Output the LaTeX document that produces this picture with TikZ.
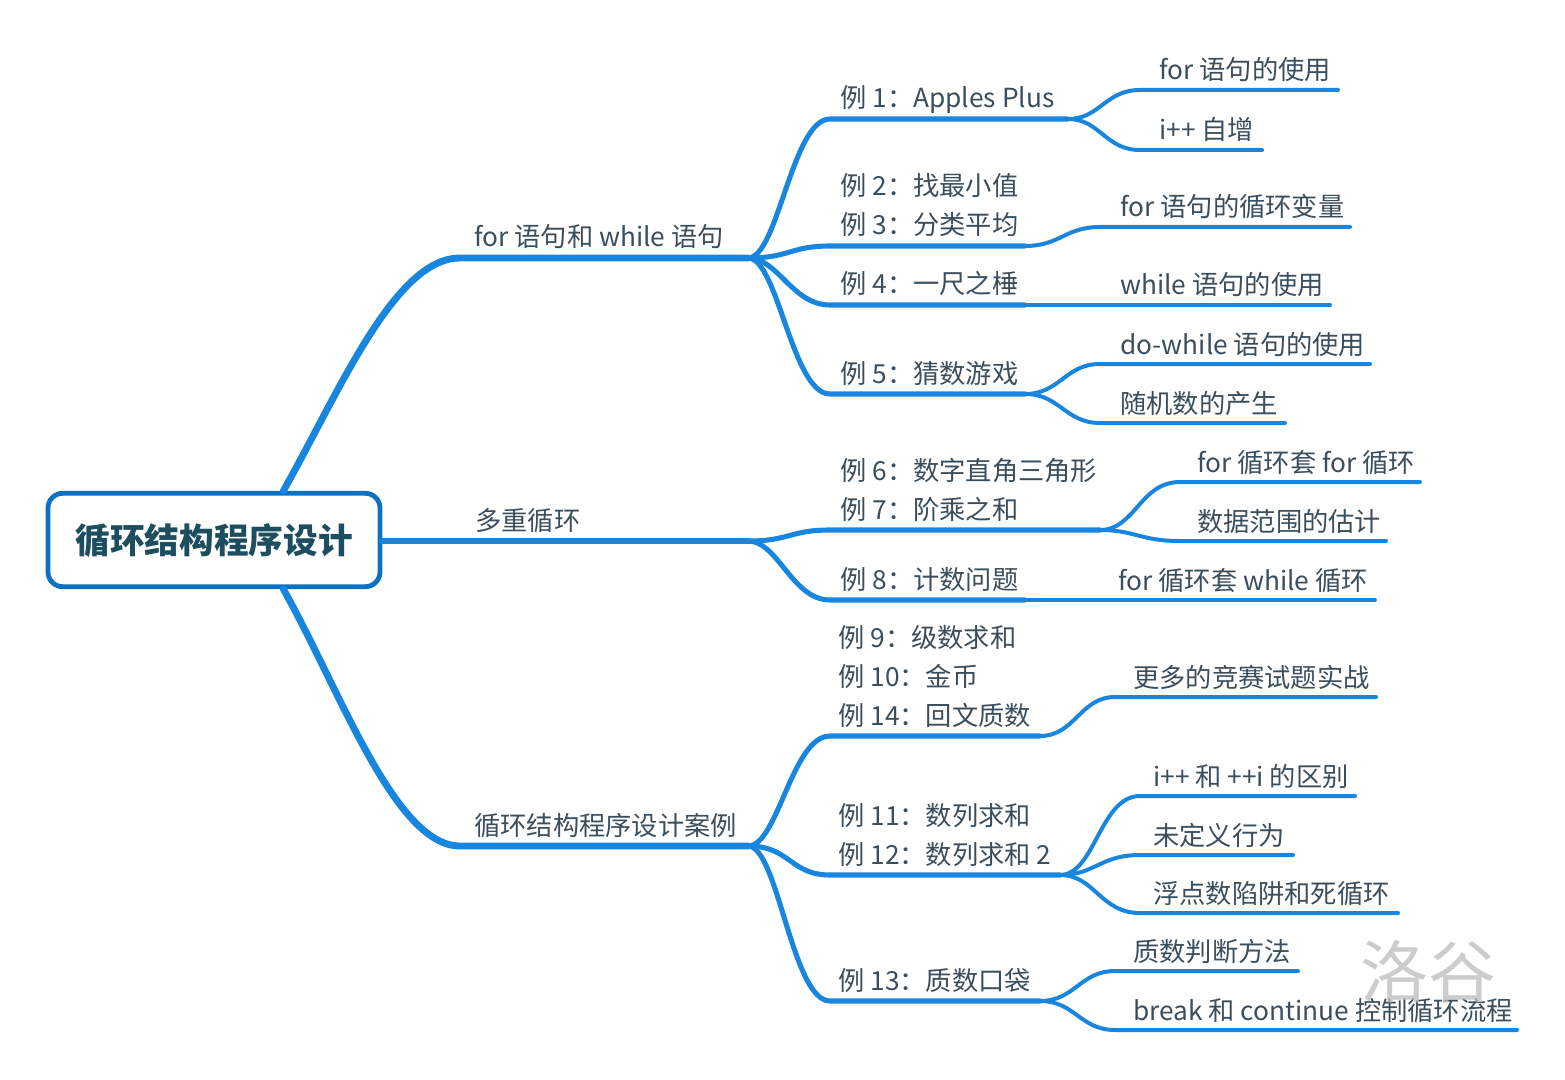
\documentclass[tikz,border=0pt]{standalone}
\usepackage{fontspec}
\setmainfont{Noto Sans CJK SC}
\usetikzlibrary{positioning}
\definecolor{branch}{RGB}{24,134,222}
\definecolor{rootline}{RGB}{12,112,196}
\definecolor{textgray}{RGB}{58,78,94}
\definecolor{roottext}{RGB}{28,78,96}
\tikzset{%
  % Specifications for style of nodes:
  rootbox/.style = {rectangle, rounded corners=11pt, draw=rootline,
    line width=3.6pt, fill=white,
    minimum width=249pt, minimum height=70pt,
    text=roottext, font=\fontsize{26}{30}\selectfont\bfseries},
  topic/.style = {anchor=base west, inner sep=0pt, text=textgray,
    font=\fontsize{19.7}{23}\selectfont},
  example/.style = {topic},
  point/.style = {topic},
  % Specifications for style of lines:
  trunk/.style = {draw=branch, line width=5.2pt, line cap=round},
  limb/.style = {draw=branch, line width=3.8pt, line cap=round},
  twig/.style = {draw=branch, line width=3pt, line cap=round},
}

\begin{document}
\begin{tikzpicture}[x=0.75pt, y=-0.75pt]
    \useasboundingbox (0,0) rectangle (1565,1080);
    % Root
    \node(Root)[rootbox] at (214,540){循环结构程序设计};
    % First level
    \coordinate(Loop) at (460,258);  \coordinate(LoopE) at (748,258);
    \coordinate(Nest) at (380,541);  \coordinate(NestE) at (748,541);
    \coordinate(Case) at (460,846);  \coordinate(CaseE) at (748,846);
    \node(LoopT)[topic] at (474,247){for 语句和 while 语句};
    \node(NestT)[topic] at (475,530){多重循环};
    \node(CaseT)[topic] at (474,835){循环结构程序设计案例};
    \draw[trunk]([xshift=52pt]Root.north) .. controls (340,390) and (395,258) .. (Loop) -- (LoopE);
    \draw[trunk](Root.east |- Nest) -- (NestE);
    \draw[trunk]([xshift=52pt]Root.south) .. controls (340,690) and (395,846) .. (Case) -- (CaseE);
    % Second level: for and while
    \coordinate(Ex1) at (830,119);   \coordinate(Ex1E) at (1068,119);
    \coordinate(Ex3) at (830,246);   \coordinate(Ex3E) at (1025,246);
    \coordinate(Ex4) at (830,305);   \coordinate(Ex4E) at (1025,305);
    \coordinate(Ex5) at (830,394);   \coordinate(Ex5E) at (1025,394);
    \node(Ex1T)[example] at (840,108){例 1：Apples Plus};
    \node(Ex2T)[example] at (840,196){例 2：找最小值};
    \node(Ex3T)[example] at (840,235){例 3：分类平均};
    \node(Ex4T)[example] at (840,294){例 4：一尺之棰};
    \node(Ex5T)[example] at (840,383){例 5：猜数游戏};
    \draw[limb](LoopE) .. controls (778,258) and (792,119) .. (Ex1) -- (Ex1E);
    \draw[limb](LoopE) .. controls (790,258) and (790,246) .. (Ex3) -- (Ex3E);
    \draw[limb](LoopE) .. controls (778,258) and (792,305) .. (Ex4) -- (Ex4E);
    \draw[limb](LoopE) .. controls (778,258) and (792,394) .. (Ex5) -- (Ex5E);
    % Second level: nested loops
    \coordinate(Ex7) at (830,530);   \coordinate(Ex7E) at (1100,530);
    \coordinate(Ex8) at (830,600);   \coordinate(Ex8E) at (1025,600);
    \node(Ex6T)[example] at (840,480){例 6：数字直角三角形};
    \node(Ex7T)[example] at (840,519){例 7：阶乘之和};
    \node(Ex8T)[example] at (840,589){例 8：计数问题};
    \draw[limb](NestE) .. controls (790,541) and (790,530) .. (Ex7) -- (Ex7E);
    \draw[limb](NestE) .. controls (778,541) and (792,600) .. (Ex8) -- (Ex8E);
    % Second level: cases
    \coordinate(Ex14) at (830,736);  \coordinate(Ex14E) at (1040,736);
    \coordinate(Ex12) at (830,875);  \coordinate(Ex12E) at (1060,875);
    \coordinate(Ex13) at (830,1001); \coordinate(Ex13E) at (1040,1001);
    \node(Ex9T)[example] at (838,647){例 9：级数求和};
    \node(Ex10T)[example] at (838,686){例 10：金币};
    \node(Ex14T)[example] at (838,725){例 14：回文质数};
    \node(Ex11T)[example] at (838,825){例 11：数列求和};
    \node(Ex12T)[example] at (838,864){例 12：数列求和 2};
    \node(Ex13T)[example] at (838,990){例 13：质数口袋};
    \draw[limb](CaseE) .. controls (778,846) and (792,736) .. (Ex14) -- (Ex14E);
    \draw[limb](CaseE) .. controls (790,846) and (790,875) .. (Ex12) -- (Ex12E);
    \draw[limb](CaseE) .. controls (778,846) and (792,1001) .. (Ex13) -- (Ex13E);
    % Third level
    \coordinate(ForUse) at (1140,90);    \coordinate(ForUseE) at (1338,90);
    \coordinate(Inc) at (1140,150);      \coordinate(IncE) at (1262,150);
    \coordinate(ForVar) at (1100,227);   \coordinate(ForVarE) at (1350,227);
    \coordinate(WhileE) at (1330,305);
    \coordinate(DoWhile) at (1100,364);  \coordinate(DoWhileE) at (1370,364);
    \coordinate(Rand) at (1100,423);     \coordinate(RandE) at (1285,423);
    \coordinate(ForFor) at (1180,482);   \coordinate(ForForE) at (1420,482);
    \coordinate(Range) at (1180,541);    \coordinate(RangeE) at (1386,541);
    \coordinate(ForWhileE) at (1375,600);
    \coordinate(More) at (1115,697);     \coordinate(MoreE) at (1376,697);
    \coordinate(PrePost) at (1140,796);  \coordinate(PrePostE) at (1355,796);
    \coordinate(Undef) at (1140,855);    \coordinate(UndefE) at (1293,855);
    \coordinate(Float) at (1140,913);    \coordinate(FloatE) at (1398,913);
    \coordinate(Prime) at (1115,971);    \coordinate(PrimeE) at (1298,971);
    \coordinate(Break) at (1115,1030);   \coordinate(BreakE) at (1517,1030);
    \node(ForUseT)[point] at (1159,80){for 语句的使用};
    \node(IncT)[point] at (1159,140){i++ 自增};
    \node(ForVarT)[point] at (1120,217){for 语句的循环变量};
    \node(WhileT)[point] at (1120,295){while 语句的使用};
    \node(DoWhileT)[point] at (1120,354){do-while 语句的使用};
    \node(RandT)[point] at (1120,413){随机数的产生};
    \node(ForForT)[point] at (1197,472){for 循环套 for 循环};
    \node(RangeT)[point] at (1197,531){数据范围的估计};
    \node(ForWhileT)[point] at (1118,590){for 循环套 while 循环};
    \node(MoreT)[point] at (1133,687){更多的竞赛试题实战};
    \node(PrePostT)[point] at (1153,786){i++ 和 ++i 的区别};
    \node(UndefT)[point] at (1153,845){未定义行为};
    \node(FloatT)[point] at (1153,903){浮点数陷阱和死循环};
    \node(PrimeT)[point] at (1133,961){质数判断方法};
    \node(BreakT)[point] at (1133,1020){break 和 continue 控制循环流程};
    \draw[twig](Ex1E) .. controls (1100,119) and (1105,90) .. (ForUse) -- (ForUseE);
    \draw[twig](Ex1E) .. controls (1100,119) and (1105,150) .. (Inc) -- (IncE);
    \draw[twig](Ex3E) .. controls (1060,246) and (1065,227) .. (ForVar) -- (ForVarE);
    \draw[twig](Ex4E) -- (WhileE);
    \draw[twig](Ex5E) .. controls (1060,394) and (1065,364) .. (DoWhile) -- (DoWhileE);
    \draw[twig](Ex5E) .. controls (1060,394) and (1065,423) .. (Rand) -- (RandE);
    \draw[twig](Ex7E) .. controls (1135,530) and (1140,482) .. (ForFor) -- (ForForE);
    \draw[twig](Ex7E) .. controls (1135,530) and (1140,541) .. (Range) -- (RangeE);
    \draw[twig](Ex8E) -- (ForWhileE);
    \draw[twig](Ex14E) .. controls (1075,736) and (1080,697) .. (More) -- (MoreE);
    \draw[twig](Ex12E) .. controls (1095,875) and (1100,796) .. (PrePost) -- (PrePostE);
    \draw[twig](Ex12E) .. controls (1095,875) and (1100,855) .. (Undef) -- (UndefE);
    \draw[twig](Ex12E) .. controls (1095,875) and (1100,913) .. (Float) -- (FloatE);
    \draw[twig](Ex13E) .. controls (1075,1001) and (1080,971) .. (Prime) -- (PrimeE);
    \draw[twig](Ex13E) .. controls (1075,1001) and (1080,1030) .. (Break) -- (BreakE);
    % Watermark
    \node(Mark)[text=black!25, font=\fontsize{51}{51}\selectfont, opacity=0.8] at (1428,972){洛谷};
\end{tikzpicture}
\end{document}
